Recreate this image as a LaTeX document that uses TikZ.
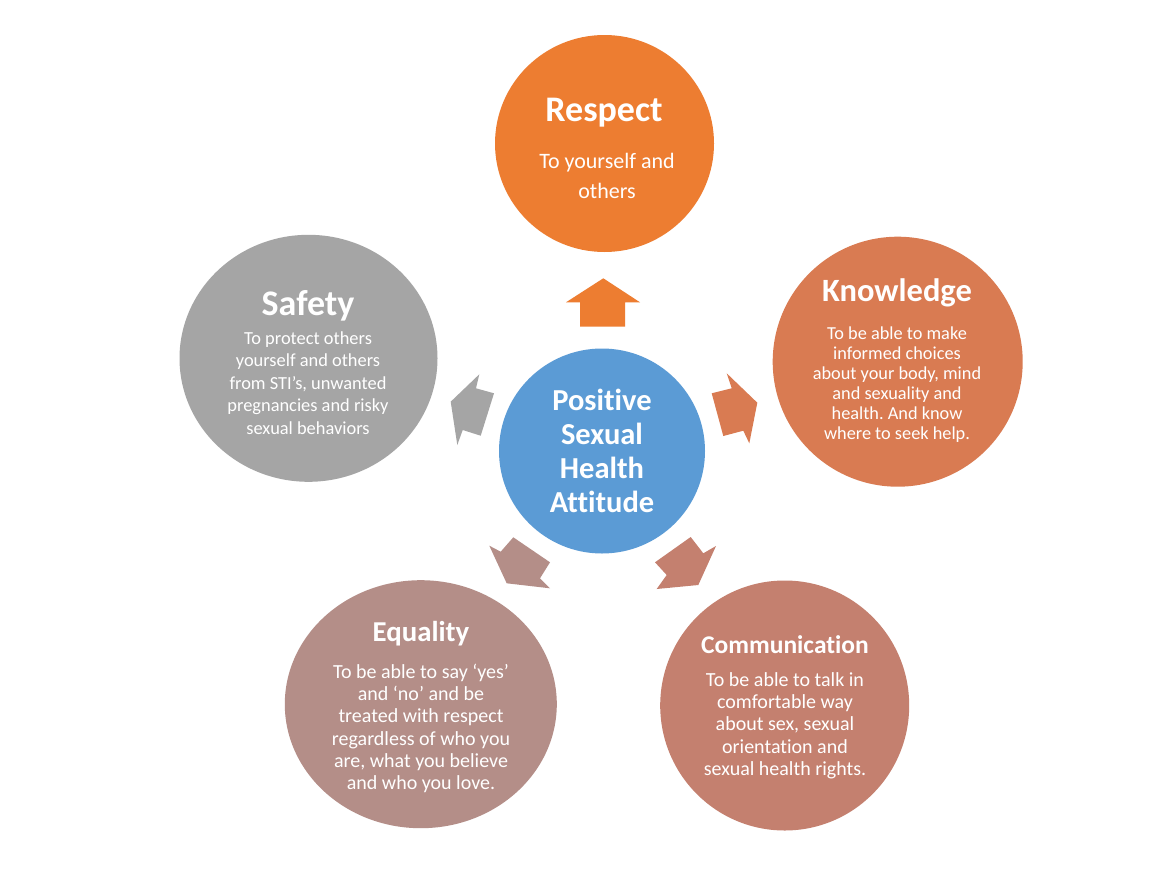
\documentclass[tikz,border=0pt]{standalone}
\usepackage{fontspec}
\setmainfont{Carlito}[Ligatures=NoCommon]
\usetikzlibrary{shapes.geometric}
\frenchspacing
\definecolor{cRespect}{HTML}{ED7D31}
\definecolor{cKnow}{RGB}{217,123,82}
\definecolor{cSafety}{HTML}{A5A5A5}
\definecolor{cEqual}{RGB}{180,142,136}
\definecolor{cComm}{RGB}{196,128,111}
\definecolor{cCenter}{HTML}{5B9BD5}
\tikzset{
  blob/.style={ellipse, draw=none, inner sep=0pt},
  ttl/.style={text=white, font=\bfseries, align=center, inner sep=0pt},
  bdy/.style={text=white, align=center, inner sep=0pt},
  blockarrow/.style={draw=none},
}
\begin{document}
\begin{tikzpicture}[x=1pt, y=-1pt]
\useasboundingbox[fill=white] (0,0) rectangle (1159,886);

% circles
\node[blob, fill=cRespect, minimum width=219pt, minimum height=217pt] (respect) at (604.5,143.5) {};
\node[blob, fill=cKnow, minimum width=250pt, minimum height=250pt] (know) at (897.7,361.7) {};
\node[blob, fill=cSafety, minimum width=258pt, minimum height=247pt] (safety) at (308.5,358.3) {};
\node[blob, fill=cEqual, minimum width=272pt, minimum height=248pt] (equal) at (420.8,704.2) {};
\node[blob, fill=cComm, minimum width=249pt, minimum height=250pt] (comm) at (784.7,705.5) {};
\node[blob, fill=cCenter, minimum width=206pt, minimum height=205pt] (center) at (602,451) {};

% block arrows
\fill[cRespect, blockarrow] (603.3,278.3) -- (640,302.3) -- (625,302.3) -- (625,326.7) -- (580,326.7) -- (580,302.3) -- (566,302.3) -- cycle;
\fill[cKnow, blockarrow] (757.3,402.7) -- (749.3,443.3) -- (743.3,430.7) -- (723.3,436) -- (711.7,393.3) -- (731.7,388.3) -- (726.7,373.3) -- cycle;
\fill[cSafety, blockarrow] (450.7,401.7) -- (479.3,374.3) -- (476,388.3) -- (494,393.3) -- (480.7,435.7) -- (462.7,430) -- (457.3,445) -- cycle;
\fill[cEqual, blockarrow] (506.7,583.3) -- (489.3,545.7) -- (500.7,551.7) -- (513.3,537.3) -- (550,562.3) -- (540,578.3) -- (550,588.3) -- cycle;
\fill[cComm, blockarrow] (698.3,585) -- (716,546) -- (703.3,553.3) -- (690.7,537) -- (655,562.3) -- (666.7,575) -- (656.7,589) -- cycle;

% texts
\node[ttl, font=\bfseries\fontsize{36}{40}\selectfont] (respectT) at (604,113) {Respect};
\node[bdy, font=\fontsize{22}{30}\selectfont] (respectB) at (607,176) {To yourself and\\others};

\node[ttl, font=\bfseries\fontsize{32.5}{36}\selectfont] (knowT) at (897,293) {Knowledge};
\node[bdy, font=\fontsize{18.3}{20}\selectfont] (knowB) at (897,385) {To be able to make\\informed choices\\about your body, mind\\and sexuality and\\health. And know\\where to seek help.};

\node[ttl, font=\bfseries\fontsize{36}{40}\selectfont] (safetyT) at (308,305.5) {Safety};
\node[bdy, font=\fontsize{18.4}{22.5}\selectfont] (safetyB) at (308,383) {To protect others\\yourself and others\\from STI’s, unwanted\\pregnancies and risky\\sexual behaviors};

\node[ttl, font=\bfseries\fontsize{30.5}{34}\selectfont] (centerT) at (602,451) {Positive\\Sexual\\Health\\Attitude};

\node[ttl, font=\bfseries\fontsize{28.8}{32}\selectfont] (equalT) at (421,633.5) {Equality};
\node[bdy, font=\fontsize{20}{22.3}\selectfont] (equalB) at (421,728.5) {To be able to say ‘yes’\\and ‘no’ and be\\treated with respect\\regardless of who you\\are, what you believe\\and who you love.};

\node[ttl, font=\bfseries\fontsize{25.5}{28}\selectfont] (commT) at (785,645) {Communication};
\node[bdy, font=\fontsize{20}{22.3}\selectfont] (commB) at (785,725.5) {To be able to talk in\\comfortable way\\about sex, sexual\\orientation and\\sexual health rights.};
\end{tikzpicture}
\end{document}
